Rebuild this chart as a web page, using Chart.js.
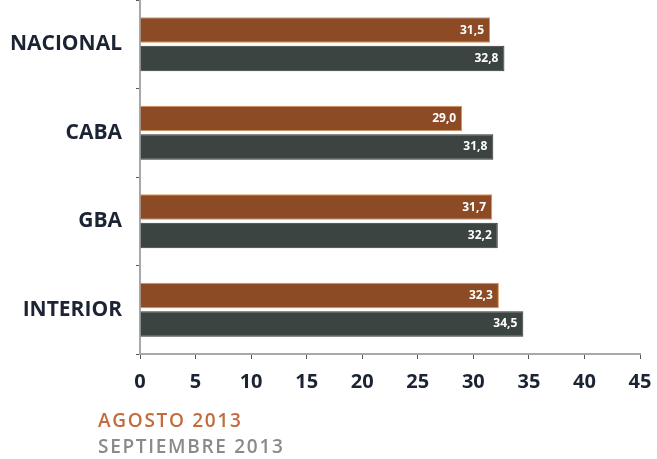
<!DOCTYPE html>
<html>
<head>
<meta charset="utf-8">
<script src="https://cdn.jsdelivr.net/npm/chart.js@4/dist/chart.umd.min.js"></script>
<style>
  body { margin: 0; background: #fff; }
  #wrap { position: relative; width: 657px; height: 459px; }
  .leyenda { position: absolute; left: 98px; font-family: "Open Sans", sans-serif; font-weight: 600; font-size: 19px; letter-spacing: 1.7px; }
</style>
</head>
<body>
<div id="wrap">
  <canvas id="chartDesempleo" width="657" height="459"></canvas>
  <div class="leyenda" id="leyAgosto" style="top: 407px; color: #c26b3d;"></div>
  <div class="leyenda" id="leySept" style="top: 433px; color: #8a8a8a;"></div>
</div>
<script>
const regiones = ['NACIONAL', 'CABA', 'GBA', 'INTERIOR'];
const agosto2013 = [31.5, 29.0, 31.7, 32.3];
const septiembre2013 = [32.8, 31.8, 32.2, 34.5];
const serieAgosto = 'AGOSTO 2013';
const serieSept = 'SEPTIEMBRE 2013';
const ticksX = [0, 5, 10, 15, 20, 25, 30, 35, 40, 45];

document.getElementById('leyAgosto').textContent = serieAgosto;
document.getElementById('leySept').textContent = serieSept;

// etiquetas blancas dentro del final de cada barra
const etiquetasBarras = {
    id: 'etiquetasBarras',
    afterDatasetsDraw(chart) {
        const ctx = chart.ctx;
        ctx.save();
        ctx.fillStyle = '#ffffff';
        ctx.font = 'bold 12px "Open Sans", sans-serif';
        ctx.textAlign = 'right';
        ctx.textBaseline = 'middle';
        chart.data.datasets.forEach((ds, i) => {
            chart.getDatasetMeta(i).data.forEach((bar, j) => {
                ctx.fillText(ds.data[j].toFixed(1).replace('.', ','), bar.x - 6, bar.y);
            });
        });
        ctx.restore();
    }
};

new Chart(document.getElementById('chartDesempleo'), {
    type: 'bar',
    data: {
        labels: regiones,
        datasets: [{
            label: serieAgosto,
            data: agosto2013,
            backgroundColor: '#8c4a25',
            borderColor: '#d99358',
            borderWidth: 1,
            categoryPercentage: 0.64,
            barPercentage: 0.9
        }, {
            label: serieSept,
            data: septiembre2013,
            backgroundColor: '#3c4442',
            borderColor: '#2e3432',
            borderWidth: 1,
            categoryPercentage: 0.64,
            barPercentage: 0.9
        }]
    },
    options: {
        indexAxis: 'y',
        responsive: false,
        animation: false,
        layout: { padding: { top: 0, right: 17, bottom: 54, left: 0 } },
        plugins: { legend: { display: false }, tooltip: { enabled: false } },
        scales: {
            x: {
                min: 0,
                max: 45,
                afterBuildTicks: (scale) => { scale.ticks = ticksX.map(v => ({ value: v })); },
                afterFit: (scale) => {
                    scale.paddingLeft = 0;
                    scale.paddingRight = 0;
                },
                grid: { drawOnChartArea: false, tickLength: 5, color: '#555' },
                border: { color: '#a8a8a8', width: 2 },
                ticks: {
                    color: '#1c2433',
                    maxRotation: 0,
                    font: { family: '"Open Sans", sans-serif', weight: 'bold', size: 20 },
                    padding: 11
                }
            },
            y: {
                afterFit: (scale) => {
                    scale.width = 140;
                    scale.paddingTop = 0;
                    scale.paddingBottom = 0;
                },
                grid: { drawOnChartArea: false, tickLength: 4, color: '#555', offset: true },
                border: { color: '#a8a8a8', width: 2 },
                ticks: {
                    color: '#1c2433',
                    font: { family: '"Open Sans", sans-serif', weight: 'bold', size: 21 },
                    padding: 14
                }
            }
        }
    },
    plugins: [etiquetasBarras]
});
</script>
</body>
</html>
